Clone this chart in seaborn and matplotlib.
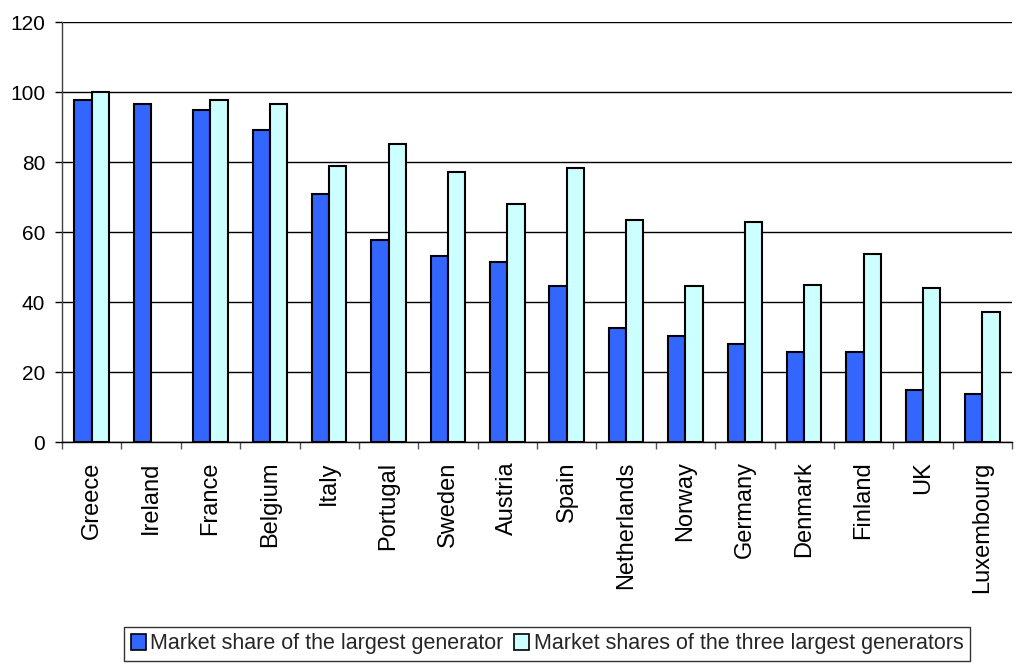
import matplotlib
matplotlib.use("Agg")
import matplotlib.pyplot as plt
import seaborn as sns
import pandas as pd
import numpy as np
from matplotlib.patches import Patch

countries = ["Greece", "Ireland", "France", "Belgium", "Italy", "Portugal", "Sweden",
             "Austria", "Spain", "Netherlands", "Norway", "Germany", "Denmark",
             "Finland", "UK", "Luxembourg"]
largest = [97.6, 96.6, 94.9, 89.1, 70.9, 57.7, 53.1, 51.3, 44.6, 32.6, 30.3, 28.0,
           25.7, 25.7, 14.9, 13.7]
three_largest = [100.0, np.nan, 97.6, 96.5, 78.9, 85.1, 77.1, 68.0, 78.3, 63.4, 44.6,
                 62.9, 45.0, 53.7, 44.0, 37.1]
series_names = ["Market share of the largest generator",
                "Market shares of the three largest generators"]
yticks = [0, 20, 40, 60, 80, 100, 120]

df = pd.DataFrame({
    "Country": countries * 2,
    "Series": [series_names[0]] * len(countries) + [series_names[1]] * len(countries),
    "Value": largest + three_largest,
})

sns.set_theme(style="white")
plt.rcParams["font.family"] = ["Liberation Sans", "DejaVu Sans"]

fig = plt.figure(figsize=(10.17, 6.65), dpi=100)
ax = fig.add_axes([62 / 1017, 1 - 442 / 665, 950 / 1017, 420 / 665])

sns.barplot(data=df, x="Country", y="Value", hue="Series", order=countries,
            hue_order=series_names, palette=["#3366FF", "#CCFFFF"],
            width=0.58, edgecolor="black", linewidth=1.5, ax=ax, legend=False,
            saturation=1)

ax.set_ylim(0, 120)
ax.set_xlim(-0.5, len(countries) - 0.5)
ax.set_yticks(yticks)
ax.set_yticklabels([str(t) for t in yticks], fontsize=15, color="black")
ax.yaxis.grid(True, color="black", linewidth=1)
ax.set_axisbelow(True)
ax.set_xlabel("")
ax.set_ylabel("")

ax.set_xticks(range(len(countries)))
ax.set_xticklabels(countries, rotation=90, fontsize=17, color="black")
ax.set_xticks(np.arange(-0.5, len(countries)), minor=True)
ax.tick_params(axis="x", which="major", length=0, pad=14)
ax.tick_params(axis="x", which="minor", length=5, width=1, color="#555555", direction="out", bottom=True)
ax.tick_params(axis="y", which="major", length=5, width=1, color="black", direction="out", left=True, pad=7)

for s in ["top", "right"]:
    ax.spines[s].set_visible(False)
ax.spines["left"].set_color("#404040")
ax.spines["bottom"].set_color("black")
ax.spines["left"].set_linewidth(1)
ax.spines["bottom"].set_linewidth(1)

handles = [Patch(facecolor="#3366FF", edgecolor="black", linewidth=1.2),
           Patch(facecolor="#CCFFFF", edgecolor="black", linewidth=1.2)]
leg = fig.legend(handles, series_names, loc="center", bbox_to_anchor=(547 / 1017, 1 - 644 / 665),
                 ncol=2, frameon=True, fancybox=False, fontsize=15.5, handlelength=0.7,
                 handleheight=0.7, handletextpad=0.2, columnspacing=0.5, borderpad=0.3,
                 edgecolor="black", borderaxespad=0)
leg.get_frame().set_linewidth(1)

fig.savefig("out.png", dpi=100)
